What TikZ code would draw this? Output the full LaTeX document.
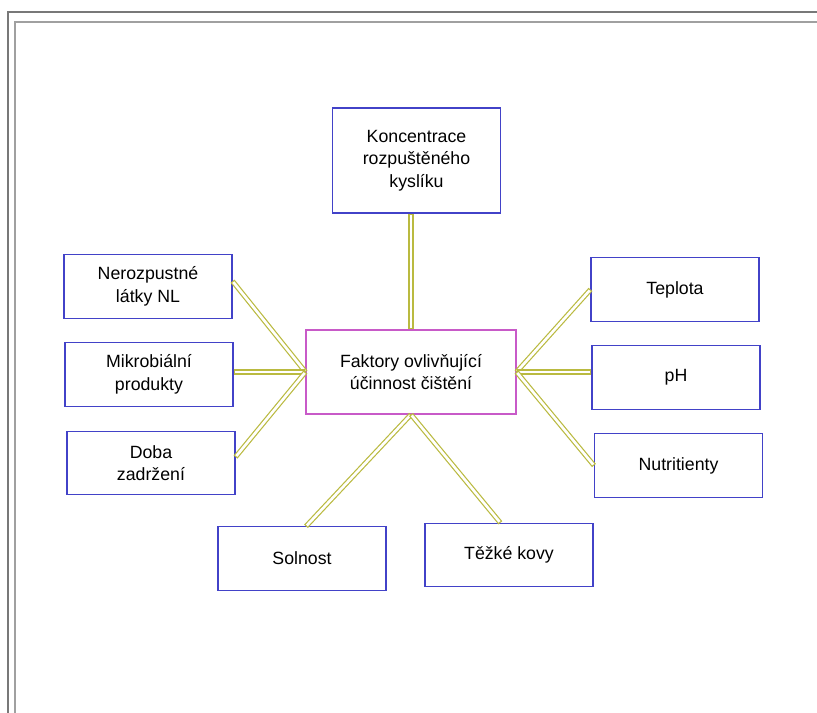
\documentclass[tikz,border=0pt]{standalone}
\usepackage{fontspec}
\setmainfont{Liberation Sans}
\definecolor{boxblue}{RGB}{66,66,200}
\definecolor{hubpink}{RGB}{200,90,200}
\definecolor{linkolive}{RGB}{186,186,64}
\definecolor{framegray}{RGB}{120,120,120}
\tikzset{
	factor/.style={draw=boxblue, line width=0.8pt, minimum width=126pt, minimum height=47.5pt, align=center, inner sep=0pt, font=\fontsize{13.3}{16.9}\selectfont},
	hub/.style={factor, draw=hubpink, minimum width=157.5pt, minimum height=63pt},
	link/.style={draw=linkolive, line width=3.8pt, postaction={draw=white, line width=2pt, shorten >=0.9pt, shorten <=0.9pt}}
}

\begin{document}
\begin{tikzpicture}[x=0.75pt, y=-0.75pt]
			%%%%% FRAME %%%%%
			\useasboundingbox (0, 0) rectangle (817, 713);
			\draw[framegray, line width=0.9pt] (8, 713) -- (8, 12) -- (817, 12);
			\draw[framegray!70, line width=0.9pt] (15, 713) -- (15, 22) -- (817, 22);
			
			%%%%% BOXES %%%%%
			\node[hub] (hub) at (411, 372) {Faktory ovlivňující\\účinnost čištění};
			
			\node[factor, minimum height=78.75pt] (kyslik) at (416.5, 160.5) {Koncentrace\\rozpuštěného\\kyslíku};
			
			\node[factor] (nl) at (148, 286.5) {Nerozpustné\\látky NL};
			\node[factor] (mikro) at (149, 374.5) {Mikrobiální\\produkty};
			\node[factor] (doba) at (151, 463) {Doba\\zadržení};
			
			\node[factor] (teplota) at (675, 289.5) {Teplota};
			\node[factor] (ph) at (676, 377.5) {pH};
			\node[factor] (nutri) at (678.5, 465.5) {Nutritienty};
			
			\node[factor] (sul) at (302, 558.5) {Solnost};
			\node[factor] (kovy) at (509, 555) {Těžké kovy};
			
			%%%%% LINKS %%%%%
			\draw[link] (hub.north) -- (hub.north |- kyslik.south);
			
			\draw[link] ([yshift=4pt]nl.east) -- (hub.west);
			\draw[link] (hub.west -| mikro.east) -- (hub.west);
			\draw[link] ([yshift=4.5pt]doba.east) -- (hub.west);
			
			\draw[link] (teplota.west) -- (hub.east);
			\draw[link] (hub.east -| ph.west) -- (hub.east);
			\draw[link] (nutri.west) -- (hub.east);
			
			\draw[link] ([xshift=3pt]sul.north) -- (hub.south);
			\draw[link] ([xshift=-6.5pt]kovy.north) -- (hub.south);
\end{tikzpicture}
\end{document}
